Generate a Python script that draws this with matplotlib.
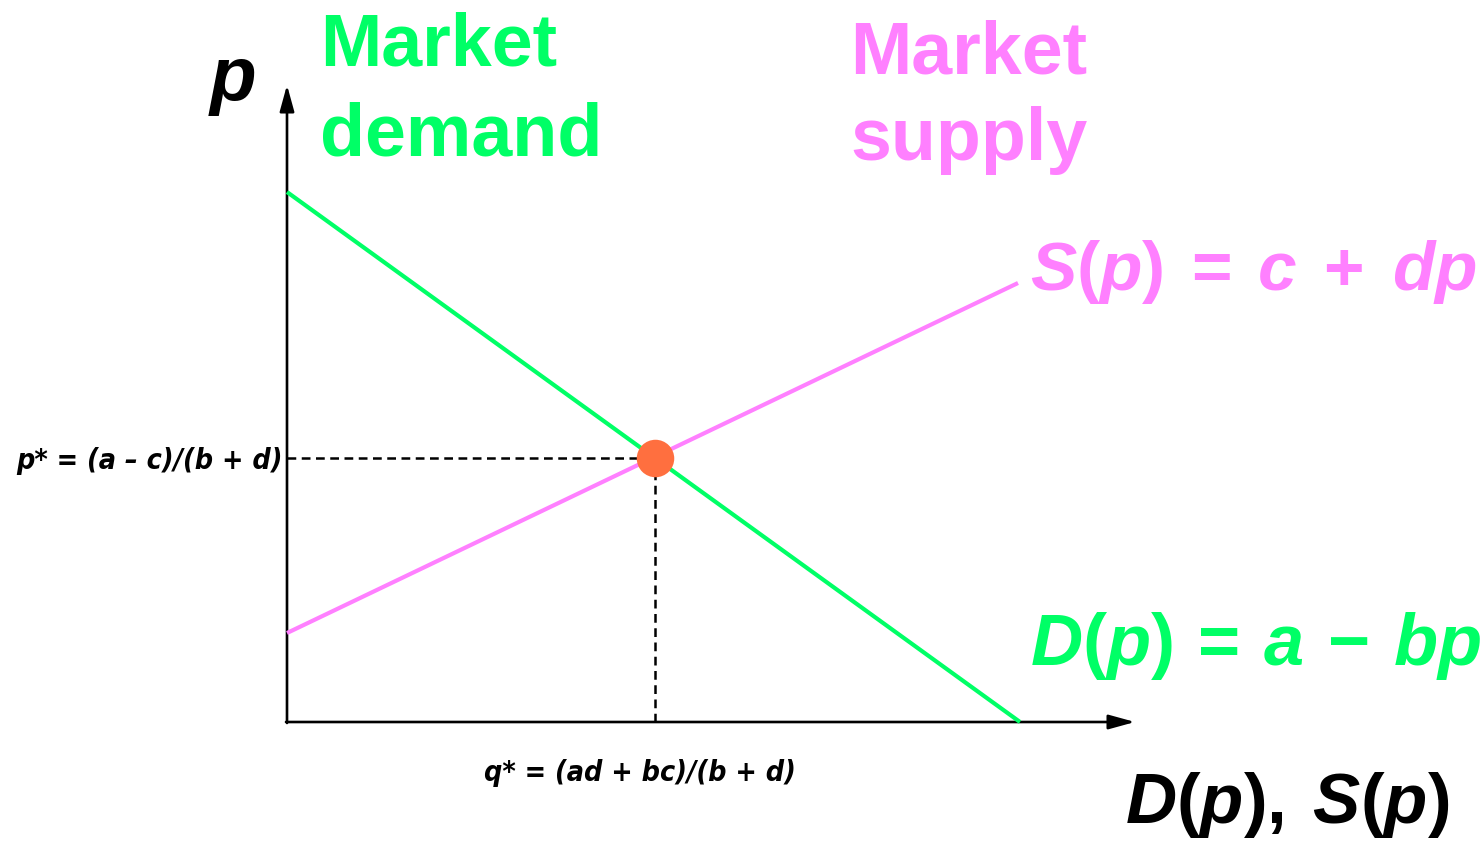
import matplotlib
matplotlib.use("Agg")
import matplotlib.pyplot as plt

# ---- data (units: arbitrary quantity / price) ----
demand_q = [0.0, 7.33]      # quantity at the line ends
demand_p = [5.30, 0.0]      # price at the line ends
supply_q = [0.0, 7.31]
supply_p = [0.89, 4.39]
eq_q = 3.68
eq_p = 2.64
x_axis_end = 8.48
y_axis_end = 6.37

GREEN = "#00FF66"
PINK = "#FF80FF"
ORANGE = "#FF6F3F"

plt.rcParams['mathtext.fontset'] = 'custom'
plt.rcParams['mathtext.rm'] = 'Liberation Sans:bold'
plt.rcParams['mathtext.it'] = 'Liberation Sans:bold:italic'
plt.rcParams['mathtext.bf'] = 'Liberation Sans:bold'

W, H = 1484, 841
fig = plt.figure(figsize=(W / 100, H / 100), dpi=100)
ax = fig.add_axes([0, 0, 1, 1])
ax.set_xlim(-2.87, (W - 287) / 100)
ax.set_ylim(-(H - 722) / 100, 7.22)
ax.axis('off')


def px(x, y):
    return x / W, 1 - y / H


# axes with arrows
arrow_kw = dict(arrowstyle='-|>,head_length=0.8,head_width=0.22', color='black',
                lw=1.9, mutation_scale=20, shrinkA=0, shrinkB=0)
ax.annotate('', xy=(x_axis_end, 0), xytext=(-0.01, 0), arrowprops=arrow_kw)
ax.annotate('', xy=(0, y_axis_end), xytext=(0, -0.01), arrowprops=arrow_kw)

# dashed guide lines
ax.plot([0, eq_q], [eq_p, eq_p], color='black', lw=1.8, dashes=(3.5, 2.2), zorder=2)
ax.plot([eq_q, eq_q], [0, eq_p], color='black', lw=1.8, dashes=(3.5, 2.2), zorder=2)

# curves
ax.plot(demand_q, demand_p, color=GREEN, lw=3.0, solid_capstyle='butt', zorder=3)
ax.plot(supply_q, supply_p, color=PINK, lw=3.0, solid_capstyle='butt', zorder=3)

# equilibrium
ax.plot([eq_q], [eq_p], 'o', color=ORANGE, markersize=27, markeredgewidth=0, zorder=4)

# texts
big = dict(ha='left', va='baseline')
fig.text(*px(208, 100), r'$p$', fontsize=55, color='black', **big)
fig.text(*px(320, 65), 'Market', fontsize=53, color=GREEN, fontweight='bold',
         family='Liberation Sans', **big)
fig.text(*px(320, 155), 'demand', fontsize=53, color=GREEN, fontweight='bold',
         family='Liberation Sans', **big)
fig.text(*px(850, 73), 'Market', fontsize=53, color=PINK, fontweight='bold',
         family='Liberation Sans', **big)
fig.text(*px(850, 160), 'supply', fontsize=53, color=PINK, fontweight='bold',
         family='Liberation Sans', **big)
fig.text(*px(1030, 290), r'$S(p)\:=\:c\:\:+\:\:dp$', fontsize=50, color=PINK, **big)
fig.text(*px(1030, 665), r'$D(p)\,=\,a\,-\,bp$', fontsize=52, color=GREEN, **big)
fig.text(*px(1125, 823), r'$D(p),\:S(p)$', fontsize=51, color='black', **big)

small = dict(fontsize=20.5, color='black', fontweight='bold', fontstyle='italic',
             fontstretch='condensed', family=['Liberation Sans Narrow', 'DejaVu Sans'])
fig.text(*px(283, 461), 'p* = (a \u2013 c)/(b + d)', ha='right', va='center', **small)
fig.text(*px(640, 773), 'q* = (ad + bc)/(b + d)', ha='center', va='center', **small)

fig.savefig('out.png', dpi=100)
